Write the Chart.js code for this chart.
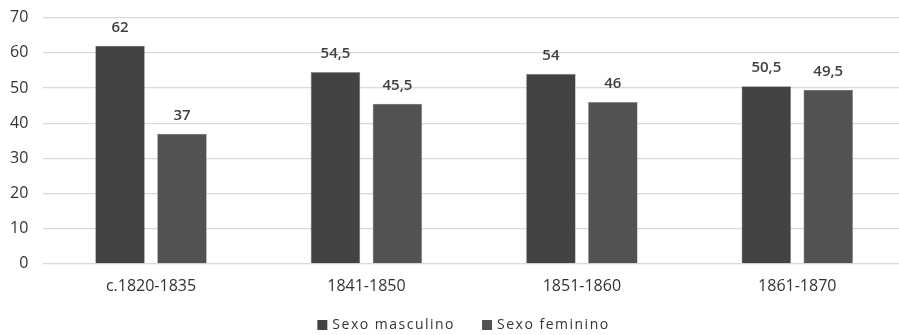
<!DOCTYPE html>
<html>
<head>
<meta charset="utf-8">
<script src="https://cdn.jsdelivr.net/npm/chart.js@4"></script>
<style>
  html, body { margin: 0; padding: 0; background: #fff; overflow: hidden; }
  #wrap { position: relative; width: 899px; height: 335px; overflow: hidden; }
  #c { position: absolute; left: 0; top: -7px; }
</style>
</head>
<body>
<div id="wrap"><canvas id="c" width="912" height="343"></canvas></div>
<script>
const categories = ['c.1820-1835', '1841-1850', '1851-1860', '1861-1870'];
const masculino = [62, 54.5, 54, 50.5];
const feminino = [37, 45.5, 46, 49.5];
const seriesNames = ['Sexo masculino', 'Sexo feminino'];
const yTicks = [0, 10, 20, 30, 40, 50, 60, 70];

const FONT = '"Open Sans", Lato, sans-serif';
const TEXT = '#333333';

// Writes each bar's value above it, with a decimal comma
const valueLabels = {
  id: 'valueLabels',
  afterDatasetsDraw(chart) {
    const ctx = chart.ctx;
    ctx.save();
    ctx.font = '600 15px ' + FONT;
    ctx.fillStyle = '#404040';
    ctx.textAlign = 'center';
    ctx.textBaseline = 'middle';
    chart.data.datasets.forEach((ds, i) => {
      chart.getDatasetMeta(i).data.forEach((bar, j) => {
        const txt = String(ds.data[j]).replace('.', ',');
        ctx.fillText(txt, bar.x, bar.y - 18);
      });
    });
    ctx.restore();
  }
};

// Legend row under the plot: square swatch plus series name
const bottomLegend = {
  id: 'bottomLegend',
  afterDraw(chart) {
    const ctx = chart.ctx;
    ctx.save();
    ctx.font = '14px ' + FONT;
    ctx.letterSpacing = '1.5px';
    ctx.textBaseline = 'middle';
    ctx.textAlign = 'left';
    const box = 10, gapBox = 5, gapItem = 27;
    const items = chart.data.datasets.map(ds => ({ text: ds.label, color: ds.backgroundColor, w: ctx.measureText(ds.label).width }));
    const total = items.reduce((s, it) => s + box + gapBox + it.w, 0) + gapItem * (items.length - 1);
    let x = (chart.width - total) / 2 + 7.5;
    const y = chart.height - 11;
    items.forEach(it => {
      ctx.fillStyle = it.color;
      ctx.fillRect(x, y - box / 2, box, box);
      x += box + gapBox;
      ctx.fillStyle = TEXT;
      ctx.fillText(it.text, x, y);
      x += it.w + gapItem;
    });
    ctx.restore();
  }
};

new Chart(document.getElementById('c'), {
  type: 'bar',
  data: {
    labels: categories,
    datasets: [
      { label: seriesNames[0], data: masculino, backgroundColor: '#434343', borderColor: '#8a8a8a', borderWidth: 0.6 },
      { label: seriesNames[1], data: feminino, backgroundColor: '#525252', borderColor: '#8a8a8a', borderWidth: 0.6 }
    ]
  },
  options: {
    responsive: false,
    animation: false,
    devicePixelRatio: 1,
    layout: { padding: { top: 3, right: 7, left: -5, bottom: 35 } },
    datasets: { bar: { categoryPercentage: 0.575, barPercentage: 0.8 } },
    scales: {
      x: {
        grid: { display: false },
        border: { display: false },
        ticks: { color: TEXT, font: { size: 16, family: FONT }, padding: 5 }
      },
      y: {
        min: 0, max: 70,
        afterBuildTicks(axis) { axis.ticks = yTicks.map(v => ({ value: v })); },
        grid: { color: '#d9d9d9', lineWidth: 1.2, drawTicks: false },
        border: { display: false },
        ticks: { color: TEXT, font: { size: 16, family: FONT }, padding: 15 }
      }
    },
    plugins: {
      legend: { display: false },
      tooltip: { enabled: false }
    }
  },
  plugins: [valueLabels, bottomLegend]
});
</script>
</body>
</html>
